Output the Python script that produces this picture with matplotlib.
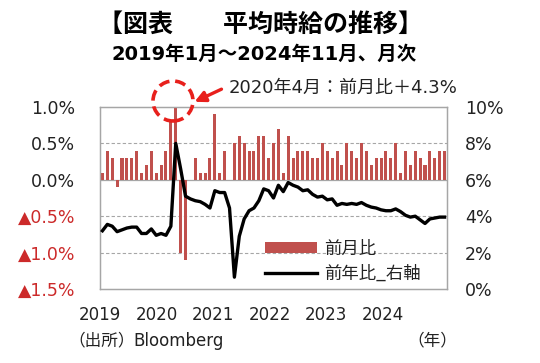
import matplotlib
matplotlib.use('Agg')
import matplotlib.pyplot as plt
import numpy as np
from matplotlib.patches import Ellipse

plt.rcParams['font.family'] = ['DejaVu Sans', 'Noto Sans CJK JP']
CJK = ['Noto Sans CJK JP', 'DejaVu Sans']

# Month-over-month change (%), Jan 2019 - Nov 2024
mom = [0.1, 0.4, 0.3, -0.1, 0.3, 0.3, 0.3, 0.4, 0.1, 0.2, 0.4, 0.1,
       0.2, 0.4, 0.8, 4.3, -1.0, -1.1, 0.0, 0.3, 0.1, 0.1, 0.3, 0.9,
       0.1, 0.4, 0.0, 0.5, 0.6, 0.5, 0.4, 0.4, 0.6, 0.6, 0.3, 0.5,
       0.7, 0.1, 0.6, 0.3, 0.4, 0.4, 0.4, 0.3, 0.3, 0.5, 0.4, 0.3,
       0.4, 0.2, 0.5, 0.4, 0.3, 0.5, 0.4, 0.2, 0.3, 0.3, 0.4, 0.3,
       0.5, 0.1, 0.4, 0.2, 0.4, 0.3, 0.2, 0.4, 0.3, 0.4, 0.4]
# Year-over-year change (%), right axis
yoy = [3.2, 3.55, 3.45, 3.15, 3.25, 3.35, 3.4, 3.4, 3.05, 3.05, 3.3, 2.95,
       3.05, 2.95, 3.45, 8.0, 6.6, 5.1, 4.95, 4.85, 4.8, 4.65, 4.45, 5.4,
       5.3, 5.3, 4.45, 0.65, 2.9, 3.85, 4.3, 4.45, 4.85, 5.5, 5.4, 5.0,
       5.7, 5.35, 5.85, 5.7, 5.6, 5.4, 5.45, 5.2, 5.05, 5.1, 4.9, 4.95,
       4.6, 4.7, 4.65, 4.7, 4.65, 4.75, 4.6, 4.5, 4.45, 4.35, 4.3, 4.3,
       4.4, 4.25, 4.05, 3.95, 4.0, 3.8, 3.6, 3.85, 3.9, 3.95, 3.95]
years = ['2019', '2020', '2021', '2022', '2023', '2024']
left_ticks = [1.0, 0.5, 0.0, -0.5, -1.0, -1.5]
left_labels = ['1.0%', '0.5%', '0.0%', '▲0.5%', '▲1.0%', '▲1.5%']
right_ticks = [0, 2, 4, 6, 8, 10]
right_labels = ['0%', '2%', '4%', '6%', '8%', '10%']

BAR = '#c0504d'
RED = '#e8201c'
LRED = '#cc2a2a'
GRID = '#a6a6a6'
TXT = '#222222'

W, H = 540, 363
fig = plt.figure(figsize=(W / 100, H / 100), dpi=100)
ax = fig.add_axes([100 / W, 1 - 289 / H, 347 / W, 182 / H])
x = np.arange(len(mom))
ax.bar(x, mom, width=0.62, color=BAR, label='前月比', zorder=3)
ax.set_ylim(-1.5, 1.0)
ax.set_xlim(-0.5, len(mom) - 0.5)
for v in [0.5, -0.5, -1.0]:
    ax.axhline(v, color=GRID, lw=0.8, ls=(0, (3, 2)), zorder=1)
ax.axhline(0.0, color=GRID, lw=0.9, zorder=2)
for s in ax.spines.values():
    s.set_color(GRID)
    s.set_linewidth(0.9)

ax.set_yticks(left_ticks)
ax.set_yticklabels(left_labels, fontsize=12.5)
for t, v in zip(ax.get_yticklabels(), left_ticks):
    t.set_color(LRED if v < 0 else TXT)
ax.tick_params(axis='y', length=0, pad=18)

ystep = 11.58
ax.set_xticks([-0.5 + k * ystep for k in range(len(years))])
ax.set_xticklabels(years, fontsize=12, color=TXT)
ax.tick_params(axis='x', length=0, pad=12)

ax2 = ax.twinx()
ax2.plot(x, yoy, color='black', lw=2.4, label='前年比_右軸', zorder=4)
ax2.set_ylim(0, 10)
ax2.set_yticks(right_ticks)
ax2.set_yticklabels(right_labels, fontsize=12.5, color=TXT)
ax2.tick_params(axis='y', length=0, pad=13)
for s in ax2.spines.values():
    s.set_color(GRID)
    s.set_linewidth(0.9)

h1, l1 = ax.get_legend_handles_labels()
h2, l2 = ax2.get_legend_handles_labels()
leg = ax2.legend(h1 + h2, l1 + l2, loc='upper left',
                 bbox_to_anchor=(258 / W, 1 - 233 / H),
                 bbox_transform=fig.transFigure, frameon=False,
                 prop={'family': CJK, 'size': 12.5},
                 handlelength=3.0, handleheight=0.6,
                 labelspacing=0.4, handletextpad=0.4, borderaxespad=0)
for t in leg.get_texts():
    t.set_color(TXT)

fig.text(260 / W, 1 - 25 / H, '【図表\u3000\u3000平均時給の推移】', ha='center', va='center',
         fontsize=18, fontweight='bold', family=CJK)
fig.text(264 / W, 1 - 54 / H, '2019年1月～2024年11月、月次', ha='center', va='center',
         fontsize=14, fontweight='bold')
fig.text(229 / W, 1 - 88 / H, '2020年4月：前月比＋4.3%', ha='left', va='center',
         fontsize=13, color=TXT)
fig.text(68 / W, 1 - 341 / H, '（出所）', ha='left', va='center',
         fontsize=12, color=TXT, family=CJK)
fig.text(133 / W, 1 - 341 / H, 'Bloomberg', ha='left', va='center',
         fontsize=12, color=TXT)
fig.text(407 / W, 1 - 341 / H, '（年）', ha='left', va='center',
         fontsize=12, color=TXT, family=CJK)

circ = Ellipse((173 / W, 1 - 101 / H), 40 / W, 40 / H, transform=fig.transFigure,
               fill=False, edgecolor=RED, lw=2.6, ls=(0, (3, 1.6)), zorder=10)
fig.add_artist(circ)
fig.add_artist(matplotlib.patches.FancyArrowPatch(
    (224 / W, 1 - 88 / H), (192 / W, 1 - 103 / H), transform=fig.transFigure,
    arrowstyle='-|>', mutation_scale=16, color=RED, lw=2.4, zorder=10))

fig.savefig('out.png', dpi=100)
